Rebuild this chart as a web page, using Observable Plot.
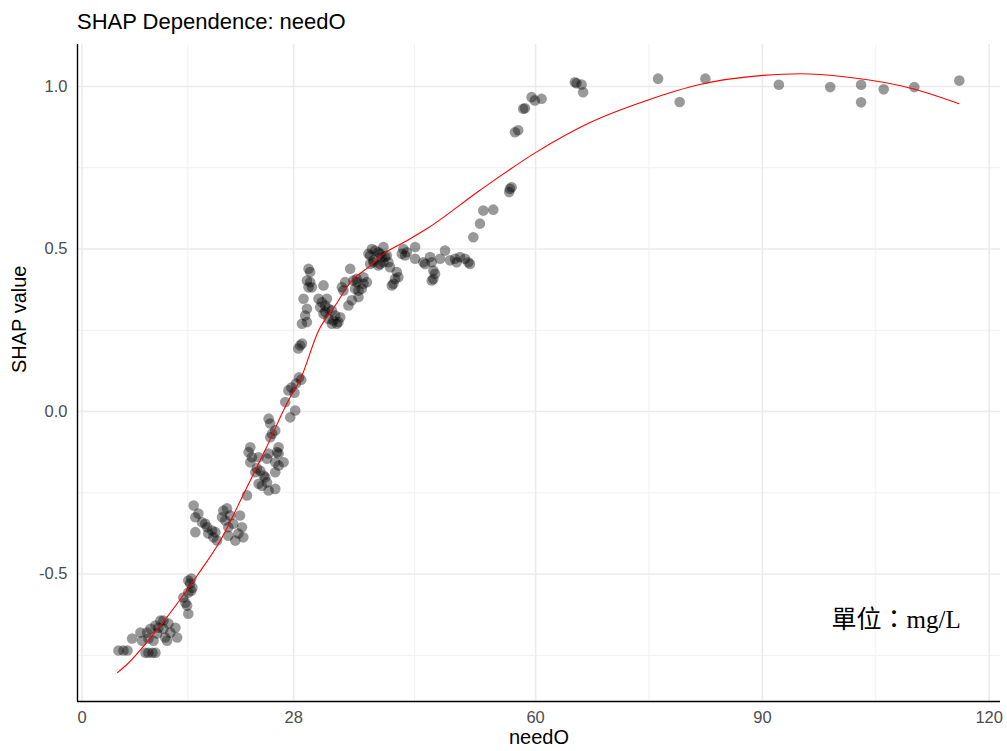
<!DOCTYPE html>
<html>
<head>
<meta charset="utf-8">
<script src="https://cdn.jsdelivr.net/npm/d3@7"></script>
<script src="https://cdn.jsdelivr.net/npm/@observablehq/plot@0.6"></script>
<style>
  body { margin: 0; background: #fff; }
  #title { height: 36px; box-sizing: border-box; padding: 11px 0 0 77px; font: 22px/22px "Liberation Sans", Arial, sans-serif; color: #000; white-space: nowrap; }
</style>
</head>
<body>
<div id="title">SHAP Dependence: needO</div>
<div id="chart"></div>
<script>
const titleText = "SHAP Dependence: needO";
const xLabel = "needO";
const yLabel = "SHAP value";
const xTicks = [0, 28, 60, 90, 120];
const xMinor = [14, 44, 75, 105];
const yTicks = [-0.5, 0, 0.5, 1.0];
const yMinor = [-0.75, -0.25, 0.25, 0.75];
const xDomain = [-0.6, 121.5];
const yDomain = [-0.892, 1.129];

const ptX = [
  4.82,5.48,6.01,6.63,7.73,7.95,8.39,8.61,8.78,8.78,9.31,9.45,9.71,9.71,9.93,10.1,10.37,10.77,10.77,11.0,11.25,11.43,12.35,12.58,9.05,11.69,
  13.4,13.67,13.9,14.06,14.06,14.06,14.3,14.45,14.6,14.45,
  14.77,14.99,14.99,15.39,15.88,16.3,16.54,16.71,17.2,17.37,17.86,17.64,18.52,18.69,19.18,18.96,19.35,19.6,20.0,20.9,21.16,21.33,20.67,20.28,19.35,21.82,
  26.88,28.2,27.54,24.68,24.9,25.13,25.56,24.9,26.0,25.79,26.0,22.26,22.03,22.26,22.48,23.36,24.68,24.47,25.56,26.66,26.0,23.14,23.58,22.92,25.56,24.24,24.02,23.36,23.8,24.47,25.56,24.68,
  27.3,27.7,28.1,28.3,28.7,29.0,28.86,29.1,28.6,
  29.96,30.18,29.75,30.18,30.41,29.96,31.94,29.3,29.75,29.52,29.09,29.75,31.28,31.73,31.5,32.17,32.39,32.6,33.05,33.49,32.6,33.05,33.92,33.26,34.15,31.94,32.17,33.71,34.37,34.81,34.58,35.47,35.9,36.13,36.57,37.01,36.35,35.69,35.24,36.57,37.68,37.23,40.98,38.55,39.21,39.87,38.11,40.09,
  37.89,38.34,38.77,39.21,39.43,39.87,39.66,40.32,38.55,38.11,39.43,40.53,40.75,42.3,42.51,42.96,42.74,44.06,44.06,45.15,45.38,46.04,46.26,46.47,46.7,46.47,46.26,47.36,48.02,48.68,49.34,50.0,50.66,51.1,51.32,49.56,51.76,41.64,41.85,41.41,41.19,36.35,37.23,
  52.64,53.08,54.4,56.6,56.83,56.51,57.27,57.7,58.36,58.59,59.47,59.91,60.79,65.19,65.42,66.08,66.29,76.2,79.06,82.46,92.18,98.97,103.06,103.06,106.05,110.1,116.05
];
const ptY = [
  -0.735,-0.735,-0.735,-0.698,-0.680,-0.705,-0.742,-0.680,-0.698,-0.742,-0.742,-0.705,-0.742,-0.658,-0.683,-0.665,-0.643,-0.668,-0.643,-0.695,-0.705,-0.652,-0.665,-0.695,-0.668,-0.68,
  -0.572,-0.588,-0.597,-0.622,-0.557,-0.520,-0.529,-0.514,-0.542,-0.551,
  -0.289,-0.325,-0.371,-0.314,-0.341,-0.345,-0.356,-0.375,-0.366,-0.387,-0.397,-0.371,-0.325,-0.305,-0.298,-0.335,-0.356,-0.32,-0.345,-0.32,-0.356,-0.387,-0.375,-0.397,-0.382,-0.258,
  0.029,0.003,-0.018,-0.022,-0.037,-0.068,-0.058,-0.079,-0.11,-0.125,-0.129,-0.11,-0.125,-0.156,-0.141,-0.141,-0.129,-0.145,-0.156,-0.156,-0.166,-0.175,-0.182,-0.187,-0.187,-0.202,-0.197,-0.222,-0.228,-0.218,-0.238,-0.243,
  0.065,0.074,0.058,0.086,0.105,0.098,0.203,0.209,0.194,
  0.439,0.429,0.403,0.398,0.382,0.382,0.388,0.347,0.316,0.295,0.27,0.275,0.347,0.336,0.321,0.326,0.347,0.316,0.311,0.295,0.285,0.27,0.275,0.28,0.29,0.301,0.306,0.27,0.382,0.398,0.372,0.439,0.403,0.378,0.372,0.378,0.408,0.342,0.326,0.352,0.398,0.413,0.388,0.459,0.449,0.459,0.48,0.475,
  0.485,0.5,0.495,0.49,0.485,0.506,0.475,0.48,0.465,0.454,0.454,0.459,0.444,0.485,0.5,0.49,0.48,0.506,0.47,0.459,0.454,0.475,0.459,0.434,0.424,0.408,0.403,0.47,0.495,0.465,0.47,0.475,0.47,0.459,0.454,0.459,0.536,0.429,0.413,0.408,0.393,0.398,0.393,
  0.578,0.618,0.621,0.685,0.69,0.675,0.859,0.865,0.931,0.933,0.967,0.957,0.962,1.013,1.01,1.006,0.982,1.024,0.952,1.024,1.005,0.998,1.005,0.951,0.991,0.998,1.018
];

const fitX = [4.7,5.75,10.37,15.22,18.3,21.6,24.2,27.3,28.9,31.3,33.5,35.7,37.9,39.9,42.7,45.6,52.6,60.1,67.2,74.7,81.7,90.1,95.0,101.1,109.9,116.0];
const fitY = [-0.803,-0.782,-0.658,-0.505,-0.397,-0.243,-0.12,0.034,0.1,0.249,0.326,0.403,0.444,0.485,0.522,0.562,0.68,0.798,0.889,0.957,1.006,1.034,1.039,1.029,0.993,0.947];

const noteText = ["單位：mg/L"];
const noteX = [107.7];
const noteY = [-0.64];

const points = ptX.map((x, i) => ({x, y: ptY[i]}));
const fit = fitX.map((x, i) => ({x, y: fitY[i]}));
const notes = noteText.map((t, i) => ({t, x: noteX[i], y: noteY[i]}));

document.getElementById("title").textContent = titleText;

const plot = Plot.plot({
  width: 1007,
  height: 715,
  marginLeft: 77,
  marginRight: 7,
  marginTop: 8,
  marginBottom: 50,
  style: {fontFamily: "'Liberation Sans', Arial, sans-serif", fontSize: "16.5px", color: "#4d4d4d", background: "#fff", overflow: "visible"},
  x: {domain: xDomain, ticks: xTicks, tickSize: 0, tickPadding: 10, label: null},
  y: {domain: yDomain, ticks: yTicks, tickSize: 0, tickPadding: 10, label: null, tickFormat: d => d.toFixed(1)},
  marks: [
    Plot.ruleX(xMinor, {stroke: "#f0f0f0", strokeWidth: 1}),
    Plot.ruleY(yMinor, {stroke: "#f0f0f0", strokeWidth: 1}),
    Plot.ruleX(xTicks, {stroke: "#ebebeb", strokeWidth: 1.6}),
    Plot.ruleY(yTicks, {stroke: "#ebebeb", strokeWidth: 1.6}),
    Plot.dot(points, {x: "x", y: "y", r: 5.3, fill: "black", fillOpacity: 0.4, stroke: "none"}),
    Plot.line(fit, {x: "x", y: "y", curve: "monotone-x", stroke: "#ff0000", strokeWidth: 1.1}),
    Plot.ruleX([xDomain[0]], {stroke: "black", strokeWidth: 1.4}),
    Plot.ruleY([yDomain[0]], {stroke: "black", strokeWidth: 1.4}),
    Plot.text(notes, {x: "x", y: "y", text: "t", fontSize: 25, fill: "black", fontFamily: "'Liberation Serif', 'Noto Sans CJK TC', serif"}),
    Plot.text([xLabel], {frameAnchor: "bottom", dy: 42, text: d => d, fontSize: 20, fill: "black"}),
    Plot.text([yLabel], {frameAnchor: "left", dx: -58, rotate: -90, text: d => d, fontSize: 20, fill: "black"})
  ]
});
document.getElementById("chart").appendChild(plot);
</script>
</body>
</html>
